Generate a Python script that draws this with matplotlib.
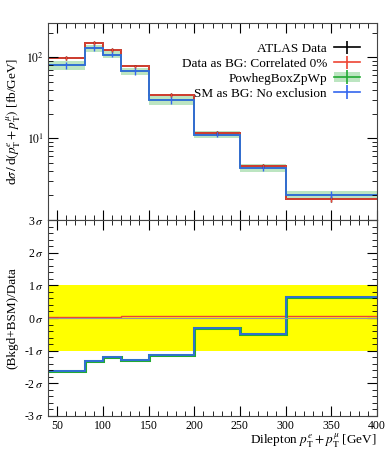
import numpy as np
import matplotlib
matplotlib.use("Agg")
import matplotlib.pyplot as plt
from matplotlib.ticker import LogLocator, NullFormatter, MultipleLocator
from matplotlib.patches import Patch

plt.rcParams['font.family'] = ['Liberation Serif', 'DejaVu Serif']
plt.rcParams['mathtext.fontset'] = 'stix'

# bin edges and values
edges = [40, 80, 100, 120, 150, 200, 250, 300, 400]
data = [98, 150, 123, 77, 34, 11.6, 4.55, 1.78]
data_err = [6, 8, 6, 4, 2, 0.6, 0.3, 0.15]
bg_data = [98, 150, 123, 77, 34, 11.6, 4.55, 1.78]
powheg = [80, 130, 108, 67, 29.5, 11.1, 4.3, 2.02]
powheg_band = [0.12, 0.1, 0.1, 0.11, 0.12, 0.1, 0.11, 0.12]
sm = [80, 130, 108, 67, 29.5, 11.1, 4.3, 2.02]
sm_err = [8, 10, 8, 6, 3, 0.7, 0.3, 0.2]

# significance in bottom panel
sig_red = [0.02, 0.03, 0.04, 0.05, 0.06, 0.07, 0.06, 0.05]
sig_blue = [-1.62, -1.31, -1.18, -1.28, -1.13, -0.31, -0.5, 0.64]

c_red = '#EE4433'
c_green = '#22AA33'
c_blue = '#3366EE'

edges = np.array(edges)
centers = 0.5 * (edges[:-1] + edges[1:])


def step(ax, vals, **kw):
    ax.stairs(vals, edges, baseline=None, **kw)


fig = plt.figure(figsize=(3.89, 4.5), dpi=100)
ax1 = fig.add_axes([0.1234, 0.511, 0.8458, 0.438])
ax2 = fig.add_axes([0.1234, 0.0756, 0.8458, 0.4354])

# top panel
lo = np.array(powheg) * (1 - np.array(powheg_band))
hi = np.array(powheg) * (1 + np.array(powheg_band))
ax1.stairs(hi, edges, baseline=lo, fill=True, color=c_green, alpha=0.3, lw=0)
step(ax1, data, color='black', lw=1.2)
ax1.errorbar(centers, data, yerr=data_err, fmt='none', ecolor='black', lw=1)
step(ax1, bg_data, color=c_red, lw=1.2)
ax1.errorbar(centers, bg_data, yerr=data_err, fmt='none', ecolor=c_red, lw=1)
step(ax1, powheg, color=c_green, lw=1.2)
step(ax1, sm, color=c_blue, lw=1.2)
ax1.errorbar(centers, sm, yerr=sm_err, fmt='none', ecolor=c_blue, lw=1)

ax1.set_yscale('log')
ax1.set_xlim(40, 400)
ax1.set_ylim(0.98, 265)
ax1.yaxis.set_minor_locator(LogLocator(base=10, subs=np.arange(2, 10)))
ax1.yaxis.set_minor_formatter(NullFormatter())
ax1.set_yticks([10, 100])
ax1.set_yticklabels([r'$10^{1}$', r'$10^{2}$'])
ax1.xaxis.set_major_locator(MultipleLocator(50))
ax1.xaxis.set_minor_locator(MultipleLocator(10))
ax1.tick_params(labelbottom=False)
ax1.set_ylabel(r'd$\sigma\,/\,$d$(p_{\mathrm{T}}^{e} + p_{\mathrm{T}}^{\mu})$ [fb/GeV]',
               fontsize=9.5, labelpad=2)

# legend
handles = [
    ax1.errorbar([], [], yerr=[], color='black', lw=1.2),
    ax1.errorbar([], [], yerr=[], color=c_red, lw=1.2),
    (Patch(color=c_green, alpha=0.3, lw=0), ax1.errorbar([], [], yerr=[], color=c_green, lw=1.2)),
    ax1.errorbar([], [], yerr=[], color=c_blue, lw=1.2),
]
labels = ['ATLAS Data', 'Data as BG: Correlated 0%', 'PowhegBoxZpWp', 'SM as BG: No exclusion']
ax1.legend(handles, labels, loc='upper right', frameon=False, markerfirst=False,
           fontsize=9.5, handlelength=2.0, handletextpad=0.5, labelspacing=0.2,
           borderaxespad=0, borderpad=0, bbox_to_anchor=(0.948, 0.9))

# bottom panel
ax2.axhspan(-1, 1, color='#FFFF00', lw=0)
ax2.axhline(0, color='#999999', lw=0.8)
step(ax2, sig_red, color=c_red, lw=1.0)
step(ax2, sig_blue, color=c_green, lw=2.2)
step(ax2, sig_blue, color=c_blue, lw=1.2)
ax2.set_xlim(40, 400)
ax2.set_ylim(-3, 3)
ax2.set_yticks([-3, -2, -1, 0, 1, 2, 3])
ax2.set_yticklabels([r'-3$\,\sigma$', r'-2$\,\sigma$', r'-1$\,\sigma$', r'0$\,\sigma$',
                     r'1$\,\sigma$', r'2$\,\sigma$', r'3$\,\sigma$'])
ax2.yaxis.set_minor_locator(MultipleLocator(0.2))
ax2.xaxis.set_major_locator(MultipleLocator(50))
ax2.xaxis.set_minor_locator(MultipleLocator(10))
ax2.set_ylabel('(Bkgd+BSM)/Data', fontsize=9.5, labelpad=4)
ax2.set_xlabel(r'Dilepton $p_{\mathrm{T}}^{e} + p_{\mathrm{T}}^{\mu}$ [GeV]',
               fontsize=9.5, loc='right', labelpad=0)

for ax in (ax1, ax2):
    ax.tick_params(which='both', direction='in', top=True, right=True, labelsize=8.5, pad=3)
    ax.tick_params(which='major', length=7)
    ax.tick_params(which='minor', length=3.5)
    for s in ax.spines.values():
        s.set_color('#444444')

fig.savefig('out.png', dpi=100)
